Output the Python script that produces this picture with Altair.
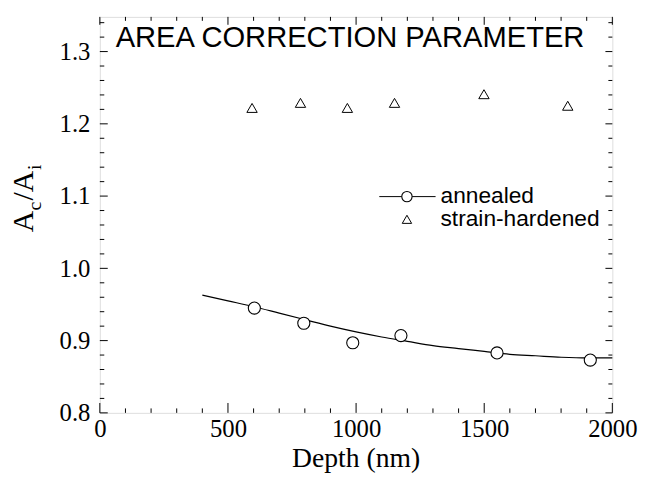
import altair as alt
import pandas as pd

# ---- data ----
annealed_depth = [603, 796, 987, 1175, 1550, 1914]
annealed_ratio = [0.945, 0.924, 0.897, 0.907, 0.883, 0.873]

hardened_depth = [594, 783, 966, 1150, 1499, 1826]
hardened_ratio = [1.222, 1.229, 1.222, 1.229, 1.241, 1.225]

fit_depth = [400, 500, 600, 700, 800, 900, 1000, 1100, 1200, 1300, 1400,
             1500, 1600, 1700, 1800, 1900, 2000]
fit_ratio = [0.963, 0.955, 0.947, 0.938, 0.929, 0.920, 0.912, 0.905, 0.899,
             0.893, 0.889, 0.885, 0.881, 0.879, 0.877, 0.876, 0.876]

x_major = [0, 500, 1000, 1500, 2000]
x_minor = [100, 200, 300, 400, 600, 700, 800, 900, 1100, 1200, 1300, 1400,
           1600, 1700, 1800, 1900]
y_major = [0.8, 0.9, 1.0, 1.1, 1.2, 1.3]
y_minor = [0.82, 0.84, 0.86, 0.88, 0.92, 0.94, 0.96, 0.98, 1.02, 1.04, 1.06,
           1.08, 1.12, 1.14, 1.16, 1.18, 1.22, 1.24, 1.26, 1.28, 1.32, 1.34]

chart_title = "AREA CORRECTION PARAMETER"
legend_labels = ["annealed", "strain-hardened"]
x_title = "Depth (nm)"

W, H = 519, 401
SERIF = "Liberation Serif"
SANS = "Liberation Sans"

xs = alt.Scale(domain=[0, 2000], nice=False, zero=False)
ys = alt.Scale(domain=[0.8, 1.348], nice=False, zero=False)

X_AXIS = alt.Axis(values=x_major, format="d", ticks=False, tickSize=0,
                  domain=False, grid=False, labelFont=SERIF,
                  labelFontSize=25, labelColor="black",
                  labelBaseline="alphabetic", labelPadding=24,
                  labelFlush=False, labelOverlap=False, title=None)
Y_AXIS = alt.Axis(values=y_major, format=".1f", ticks=False, tickSize=0,
                  domain=False, grid=False, labelFont=SERIF,
                  labelFontSize=25, labelColor="black",
                  labelPadding=10, labelFlush=False,
                  labelOverlap=False, title=None)


def X(field):
    return alt.X(field, scale=xs, axis=X_AXIS, title=None)


def Y(field):
    return alt.Y(field, scale=ys, axis=Y_AXIS, title=None)


ann = pd.DataFrame({"d": annealed_depth, "r": annealed_ratio})
hard = pd.DataFrame({"d": hardened_depth, "r": hardened_ratio})
fit = pd.DataFrame({"d": fit_depth, "r": fit_ratio})

fit_line = alt.Chart(fit).mark_line(color="black", strokeWidth=1.2,
                                    interpolate="monotone").encode(
    x=X("d:Q"), y=Y("r:Q"))

circles = alt.Chart(ann).mark_point(shape="circle", size=150, filled=False,
                                    fill="white", fillOpacity=1,
                                    color="black", strokeWidth=1.1,
                                    opacity=1).encode(
    x=X("d:Q"), y=Y("r:Q"))

triangles = alt.Chart(hard).mark_point(shape="triangle-up", size=110,
                                       filled=False, color="black",
                                       strokeWidth=1.0, opacity=1).encode(
    x=X("d:Q"), y=Y("r:Q"))


# inside ticks
def xticks(vals, length, top):
    df = pd.DataFrame({"v": vals})
    y0, y1 = (0, length) if top else (H, H - length)
    return alt.Chart(df).mark_rule(color="black", strokeWidth=1).encode(
        x=X("v:Q"), y=alt.value(y0), y2=alt.value(y1))


def yticks(vals, length, right):
    df = pd.DataFrame({"v": vals})
    x0, x1 = (W, W - length) if right else (0, length)
    return alt.Chart(df).mark_rule(color="black", strokeWidth=1).encode(
        y=Y("v:Q"), x=alt.value(x0), x2=alt.value(x1))


ticks = [
    xticks(x_major, 10, False), xticks(x_minor, 4.5, False),
    xticks(x_major, 8, True), xticks(x_minor, 4, True),
    yticks(y_major, 8, False), yticks(y_minor, 4.5, False),
    yticks(y_major, 7, True), yticks(y_minor, 4, True),
]


def label(text, x, y, size, font, align="left", baseline="alphabetic", angle=0):
    return alt.Chart(pd.DataFrame({"t": [text]})).mark_text(
        font=font, fontSize=size, align=align, baseline=baseline,
        angle=angle, color="black").encode(
        text="t:N", x=alt.value(x), y=alt.value(y))


title_text = label(chart_title, 16, 31, 29.5, SANS)
x_title_text = label(x_title, W / 2, 456, 28, SERIF, align="center")

# y title A_c / A_i built from pieces, rotated
y_title = [
    label("A", -68, 218, 30, SERIF, angle=270),
    label("c", -60, 196, 20, SERIF, angle=270),
    label("/A", -68, 186, 30, SERIF, angle=270),
    label("i", -60, 155, 20, SERIF, angle=270),
]

# legend
leg_line = alt.Chart(pd.DataFrame({"a": [0]})).mark_rule(
    color="black", strokeWidth=1).encode(
    x=alt.value(283), x2=alt.value(340), y=alt.value(182))
leg_circle = alt.Chart(pd.DataFrame({"a": [0]})).mark_point(
    shape="circle", size=110, filled=False, fill="white", fillOpacity=1,
    color="black", strokeWidth=1.1, opacity=1).encode(
    x=alt.value(311), y=alt.value(182))
leg_tri = alt.Chart(pd.DataFrame({"a": [0]})).mark_point(
    shape="triangle-up", size=90, filled=False, color="black",
    strokeWidth=1.0, opacity=1).encode(
    x=alt.value(311), y=alt.value(205))
leg_t1 = label(legend_labels[0], 345, 181, 23, SANS, baseline="middle")
leg_t2 = label(legend_labels[1], 345, 205, 23, SANS, baseline="middle")

chart = alt.layer(
    *ticks, fit_line, circles, triangles, title_text,
    x_title_text, *y_title, leg_line, leg_circle, leg_tri, leg_t1, leg_t2,
).properties(
    width=W, height=H,
    autosize=alt.AutoSizeParams(type="none"),
    padding={"left": 93, "top": 6, "right": 27, "bottom": 66},
).configure_view(
    stroke="black", strokeWidth=1.5
).configure(background="white")

chart.save("out.html", embed_options={"renderer": "svg", "actions": False})
